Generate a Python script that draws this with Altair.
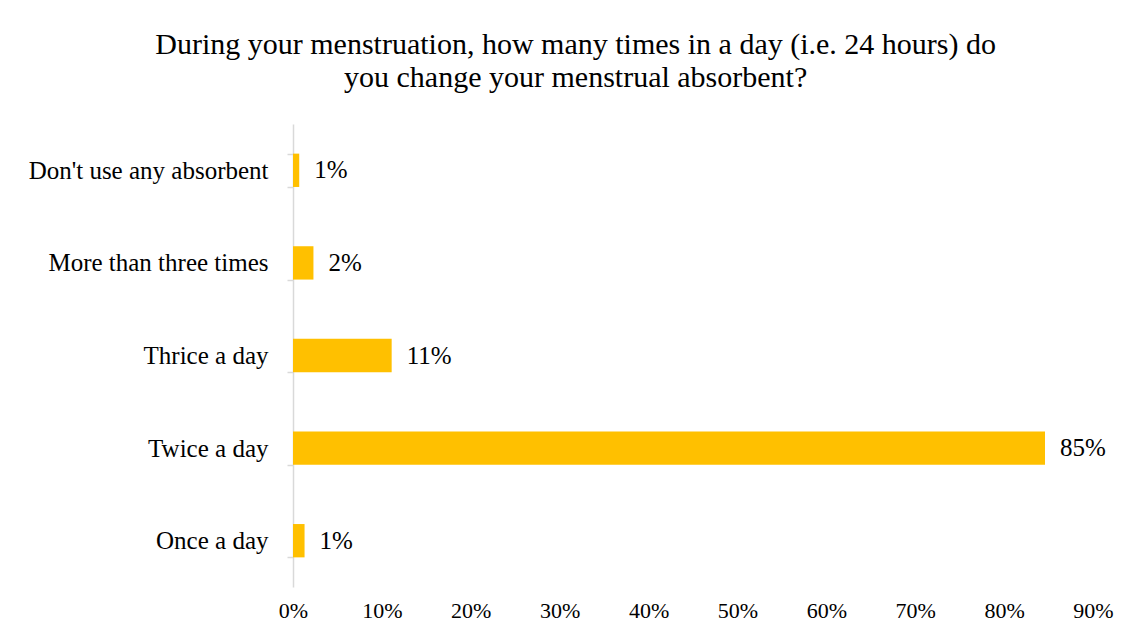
import altair as alt
import pandas as pd

categories = [
    "Don't use any absorbent",
    "More than three times",
    "Thrice a day",
    "Twice a day",
    "Once a day",
]
shares = [0.007, 0.023, 0.111, 0.846, 0.013]

df = pd.DataFrame({"category": categories, "share": shares})

FONT = "Liberation Serif"

base = alt.Chart(df).encode(
    y=alt.Y(
        "category:N",
        sort=categories,
        title=None,
        scale=alt.Scale(paddingInner=0.64, paddingOuter=0.32),
        axis=alt.Axis(
            domainColor="#D9D9D9",
            domainWidth=1.5,
            tickColor="#D9D9D9",
            tickWidth=1.5,
            tickSize=6,
            tickBand="extent",
            labelPadding=19,
            labelFontSize=25,
            labelFont=FONT,
            labelColor="black",
            labelLimit=400,
        ),
    ),
    x=alt.X(
        "share:Q",
        title=None,
        scale=alt.Scale(domain=[0, 0.9]),
        axis=alt.Axis(
            values=[0, 0.1, 0.2, 0.3, 0.4, 0.5, 0.6, 0.7, 0.8, 0.9],
            format=".0%",
            domain=False,
            ticks=False,
            grid=False,
            labelFlush=False,
            labelPadding=13,
            labelFontSize=22,
            labelFont=FONT,
            labelColor="black",
        ),
    ),
)

bars = base.mark_bar(color="#FFC000")
labels = base.mark_text(
    align="left", baseline="middle", dx=15, fontSize=25, font=FONT, color="black"
).encode(text=alt.Text("share:Q", format=".0%"))

chart = (
    (bars + labels)
    .properties(
        width=800,
        height=463,
        padding={"left": 20, "top": 22, "right": 5, "bottom": 5},
        title=alt.TitleParams(
            text=[
                "During your menstruation, how many times in a day (i.e. 24 hours) do",
                "you change your menstrual absorbent?",
            ],
            font=FONT,
            fontSize=30,
            fontWeight="normal",
            color="black",
            anchor="middle",
            frame="bounds",
            lineHeight=33,
            offset=19,
            dx=5,
        ),
    )
    .configure_view(stroke=None)
)

chart.save("out.html", embed_options={"renderer": "svg", "actions": False})
